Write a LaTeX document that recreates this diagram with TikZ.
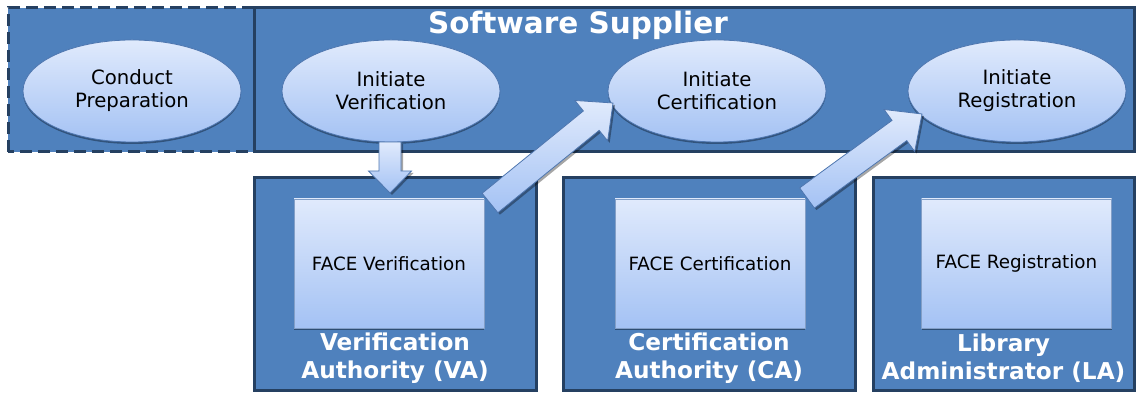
\documentclass[tikz,border=0pt]{standalone}
\usepackage{fontspec}
\setmainfont{DejaVu Sans}
\usetikzlibrary{calc,shapes.geometric,shadows}
\definecolor{boxblue}{RGB}{79,129,189}
\definecolor{boxline}{RGB}{37,64,97}
\definecolor{paletop}{RGB}{224,234,252}
\definecolor{palebot}{RGB}{164,194,244}
\definecolor{paleline}{RGB}{78,118,175}
\tikzset{
  group/.style={draw=boxline, line width=3pt, fill=boxblue},
  task/.style={ellipse, draw=paleline, line width=0.8pt, top color=paletop,
    bottom color=palebot, minimum width=218pt, minimum height=102pt,
    align=center, inner sep=0pt, font=\fontsize{19.7}{23}\selectfont,
    drop shadow={shadow xshift=0pt, shadow yshift=-2pt, opacity=0.7, fill=boxline}},
  work/.style={draw=paleline!70, line width=0.8pt, top color=paletop,
    bottom color=palebot, minimum width=190pt, minimum height=129pt,
    inner sep=0pt, font=\fontsize{18.3}{21}\selectfont,
    drop shadow={shadow xshift=0pt, shadow yshift=-2pt, opacity=0.8, fill=boxline}},
  role/.style={text=white, align=center, font=\bfseries\fontsize{23.2}{28}\selectfont},
  barrow/.style={draw=paleline, line width=0.8pt, top color=paletop, bottom color=palebot,
    drop shadow={shadow xshift=2pt, shadow yshift=-2pt, opacity=0.35, fill=black}}
}
% block arrow: tail, tip, half shaft, half head, head length
\newcommand{\blockarrow}[5]{%
  \coordinate (#1-#2) at ($(#2)!#5!(#1)$);
  \draw[barrow] ($(#1)!#3!-90:(#2)$) -- ($(#1-#2)!#3!-90:(#2)$)
    -- ($(#1-#2)!#4!-90:(#2)$) -- (#2) -- ($(#1-#2)!#4!90:(#2)$)
    -- ($(#1-#2)!#3!90:(#2)$) -- ($(#1)!#3!90:(#2)$) -- cycle;}
\begin{document}
\begin{tikzpicture}[x=1pt,y=1pt]
  \useasboundingbox (0,0) rectangle (1136,395);
  % supplier row
  \draw[group, dash pattern=on 12pt off 6pt] (8,243) rectangle (254,387);
  \draw[group] (254,243) rectangle (1134,387);
  \node[text=white, font=\bfseries\fontsize{29.5}{34}\selectfont] (ss) at (578,370) {Software Supplier};
  % authorities
  \draw[group] (254,4) rectangle (536,217);
  \draw[group] (563,4) rectangle (855,217);
  \draw[group] (873,4) rectangle (1134,217);
  \node[task] (cp) at (132,304) {Conduct\\Preparation};
  \node[task] (iv) at (391,304) {Initiate\\Verification};
  \node[task] (ic) at (717,304) {Initiate\\Certification};
  \node[task] (ir) at (1017,304) {Initiate\\Registration};
  \node[work] (fv) at (389,131.5) {FACE Verification};
  \node[work] (fc) at (710,131.5) {FACE Certification};
  \node[work] (fr) at (1016.5,131.5) {FACE Registration};
  \node[role] (va) at (395,37) {Verification\\Authority (VA)};
  \node[role] (ca) at (709,37) {Certification\\Authority (CA)};
  \node[role] (la) at (1003.5,37) {Library\\Administrator (LA)};
  % hand-offs
  \coordinate (vtail) at (390,253);
  \coordinate (vtip) at (390,202);
  \coordinate (ctail) at (490,192);
  \coordinate (ctip) at (613,292);
  \coordinate (rtail) at (807,197);
  \coordinate (rtip) at (922,281);
  \blockarrow{vtail}{vtip}{11pt}{21.5pt}{22pt}
  \blockarrow{ctail}{ctip}{12.5pt}{26pt}{28pt}
  \blockarrow{rtail}{rtip}{12.5pt}{26pt}{28pt}
\end{tikzpicture}
\end{document}
